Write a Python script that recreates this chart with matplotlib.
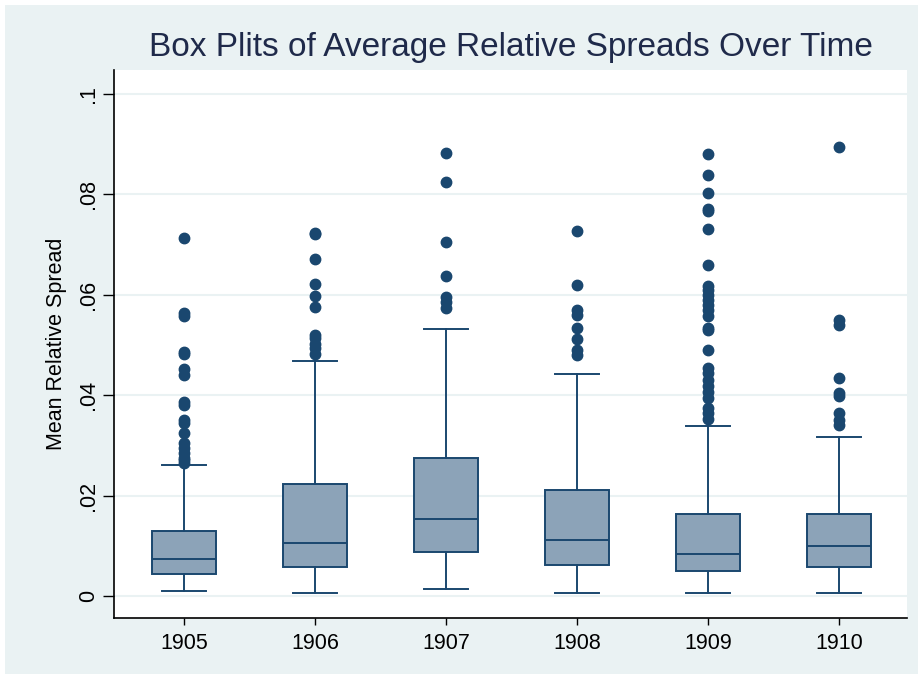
import matplotlib.pyplot as plt
from matplotlib.patches import Rectangle

plt.rcParams['font.family'] = ['Liberation Sans', 'DejaVu Sans']

years = ["1905", "1906", "1907", "1908", "1909", "1910"]

# box summary values
whislo = [0.0010, 0.00067, 0.00133, 0.00067, 0.00067, 0.00067]
q1 = [0.0044, 0.00584, 0.00883, 0.00618, 0.00505, 0.00584]
med = [0.0074, 0.0106, 0.01528, 0.01116, 0.00837, 0.00996]
q3 = [0.01295, 0.02225, 0.02743, 0.0211, 0.01627, 0.01627]
whishi = [0.0261, 0.0468, 0.0531, 0.04416, 0.03386, 0.0316]

outliers = [
    [0.0713, 0.0563, 0.0558, 0.0486, 0.0483, 0.0452, 0.0440, 0.0387, 0.0380,
     0.0351, 0.0344, 0.0325, 0.0305, 0.0295, 0.0285, 0.0275, 0.0270, 0.0264],
    [0.0723, 0.0721, 0.0671, 0.0621, 0.0598, 0.0576, 0.0520, 0.0515, 0.0502,
     0.0494, 0.0483],
    [0.0883, 0.0824, 0.0705, 0.0638, 0.0596, 0.0586, 0.0573],
    [0.0728, 0.0619, 0.0570, 0.0560, 0.0533, 0.0513, 0.0490, 0.0480],
    [0.0880, 0.0839, 0.0802, 0.0772, 0.0768, 0.0731, 0.0659, 0.0618, 0.0610,
     0.0600, 0.0590, 0.0580, 0.0570, 0.0558, 0.0533, 0.0530, 0.0490, 0.0454,
     0.0444, 0.0430, 0.0418, 0.0407, 0.0394, 0.0374, 0.0364, 0.0352],
    [0.0895, 0.0550, 0.0540, 0.0434, 0.0404, 0.0398, 0.0364, 0.0350, 0.0341],
]

yticks = [0, 0.02, 0.04, 0.06, 0.08, 0.1]
ytick_labels = ["0", ".02", ".04", ".06", ".08", ".1"]

navy = '#1a476f'
bg = '#eaf2f3'

stats = []
for i in range(len(years)):
    stats.append(dict(label=years[i], whislo=whislo[i], q1=q1[i], med=med[i],
                      q3=q3[i], whishi=whishi[i], fliers=outliers[i]))

fig = plt.figure(figsize=(9.23, 6.77), dpi=100, facecolor='white')
fig.patches.append(Rectangle((5 / 923, 0.005), 1 - 10 / 923, 1 - 0.013,
                             transform=fig.transFigure, facecolor=bg,
                             edgecolor='none', zorder=-10))
ax = fig.add_axes([0.1235, 0.0872, 0.8592, 0.8094])
ax.set_facecolor('white')

positions = list(range(1, len(years) + 1))
ax.bxp(stats, positions=positions, widths=0.49, capwidths=0.33,
       patch_artist=True,
       boxprops=dict(facecolor='#8ca3b8', edgecolor=navy, linewidth=1.4),
       medianprops=dict(color=navy, linewidth=1.4),
       whiskerprops=dict(color=navy, linewidth=1.4),
       capprops=dict(color=navy, linewidth=1.4),
       flierprops=dict(marker='o', markersize=7.5, markerfacecolor=navy,
                       markeredgecolor=navy))

ax.set_xlim(0.466, 6.52)
ax.set_ylim(-0.00438, 0.1048)
ax.set_yticks(yticks)
ax.set_yticklabels(ytick_labels, rotation=90, va='center')
ax.set_xticks(positions)
ax.set_xticklabels(years)
ax.tick_params(axis='y', length=8, width=1, labelsize=15.5, pad=3)
ax.tick_params(axis='x', length=5, width=1, labelsize=15.5, pad=6)
ax.yaxis.grid(True, color=bg, linewidth=1.5)
ax.set_axisbelow(True)
for s in ['top', 'right']:
    ax.spines[s].set_visible(False)
ax.spines['left'].set_linewidth(1.2)
ax.spines['bottom'].set_linewidth(1.2)

ax.set_ylabel("Mean Relative Spread", fontsize=15.5, labelpad=8)
ax.set_title("Box Plits of Average Relative Spreads Over Time",
             fontsize=24, color='#1f2a4a', pad=10)

fig.savefig("out.png", dpi=100, facecolor=fig.get_facecolor())
